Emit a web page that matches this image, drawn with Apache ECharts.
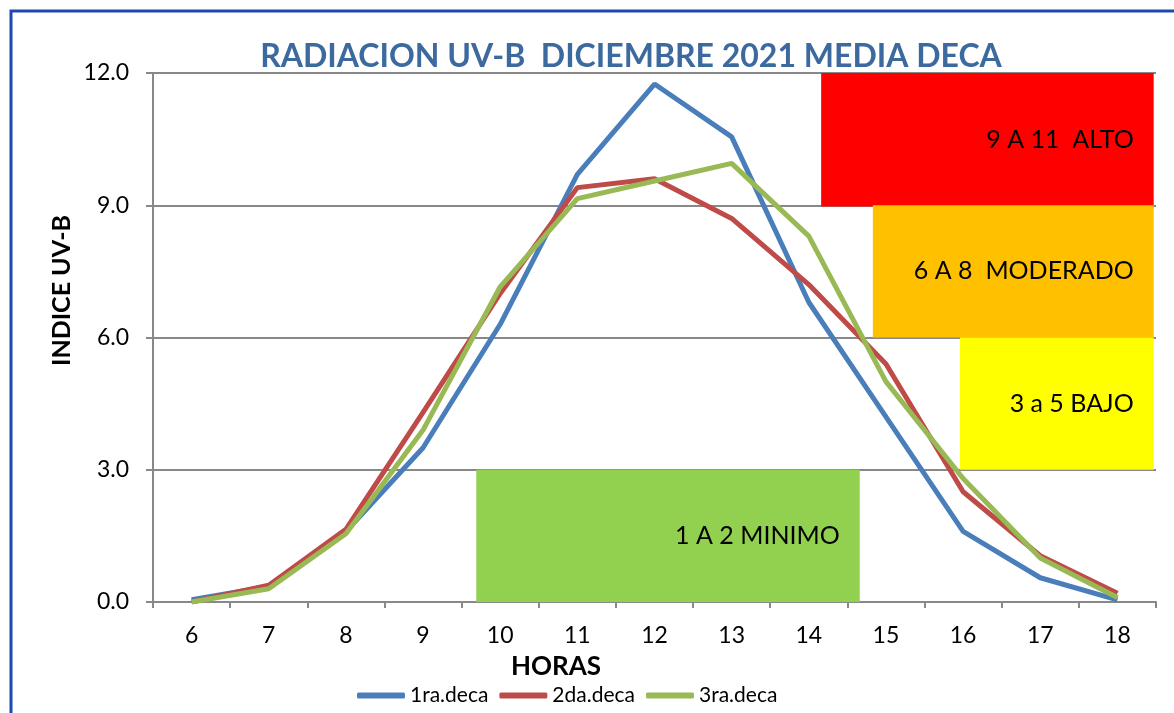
<!DOCTYPE html>
<html>
<head>
<meta charset="utf-8">
<script src="https://cdn.jsdelivr.net/npm/echarts@6/dist/echarts.min.js"></script>
<style>
html,body{margin:0;padding:0;background:#fff;}
#chart{width:1174px;height:713px;}
</style>
</head>
<body>
<div id="chart"></div>
<script>
const hours = ['6','7','8','9','10','11','12','13','14','15','16','17','18'];
const deca1 = [0.05, 0.35, 1.6, 3.5, 6.3, 9.7, 11.75, 10.55, 6.8, 4.2, 1.6, 0.55, 0.05];
const deca2 = [0.0, 0.38, 1.65, 4.3, 7.0, 9.4, 9.6, 8.7, 7.2, 5.4, 2.5, 1.05, 0.2];
const deca3 = [0.0, 0.3, 1.55, 3.9, 7.15, 9.15, 9.55, 9.95, 8.3, 5.0, 2.8, 1.0, 0.1];
const seriesNames = ['1ra.deca', '2da.deca', '3ra.deca'];
const zoneLabels = ['9 A 11  ALTO', '6 A 8  MODERADO', '3 a 5 BAJO', '1 A 2 MINIMO'];

const FONT = 'Lato';
const chart = echarts.init(document.getElementById('chart'));

// annotation boxes (drawn shapes in the original), placed on a hidden hour axis
const zoneBoxes = [
  {x0: 14.16, x1: 18.47, y0: 12, y1: 8.97, color: '#FF0000'},
  {x0: 14.83, x1: 18.47, y0: 9, y1: 6.0, color: '#FFC000'},
  {x0: 15.96, x1: 18.47, y0: 6, y1: 3.0, color: '#FFFF00'},
  {x0: 9.69, x1: 14.66, y0: 3, y1: 0, color: '#92D050'}
];
const markData = zoneBoxes.map((b, i) => [
  {xAxis: b.x0, yAxis: b.y0, itemStyle: {color: b.color, opacity: 1},
   label: {show: true, position: 'insideRight', distance: 20, formatter: zoneLabels[i],
           color: '#000', fontFamily: FONT, fontSize: 25}},
  {xAxis: b.x1, yAxis: b.y1}
]);

const lineColors = ['#4A7EBB', '#BE4B48', '#98B954'];
const lineData = [deca1, deca2, deca3];

chart.setOption({
  animation: false,
  backgroundColor: '#fff',
  textStyle: {fontFamily: FONT},
  title: {
    text: 'RADIACION UV-B  DICIEMBRE 2021 MEDIA DECA',
    left: 626, textAlign: 'center', top: 36,
    textStyle: {color: '#3C6A9E', fontSize: 32, fontWeight: 'bold', fontFamily: FONT}
  },
  graphic: [{
    type: 'polyline', silent: true,
    shape: {points: [[11, 800], [11, 11], [1200, 11]]},
    style: {stroke: '#1E48B0', lineWidth: 3, fill: null}
  }, {
    type: 'text', silent: true, x: 62, y: 366, rotation: Math.PI / 2,
    style: {text: 'INDICE UV-B', fill: '#000', font: 'bold 25px Lato', align: 'left', verticalAlign: 'middle'}
  }, {
    type: 'text', silent: true, x: 556, y: 667,
    style: {text: 'HORAS', fill: '#000', font: 'bold 26px Lato', align: 'center', verticalAlign: 'middle'}
  }],
  legend: {
    data: seriesNames, top: 680, left: 352,
    icon: 'roundRect', itemWidth: 48, itemHeight: 6, itemGap: 11, itemTextGap: 5,
    textStyle: {fontFamily: FONT, fontSize: 21, color: '#000'}
  },
  grid: {left: 153, right: 18, top: 73, bottom: 111, containLabel: false},
  xAxis: [{
    type: 'category', data: hours, boundaryGap: true,
    axisLine: {lineStyle: {color: '#888', width: 2}},
    axisTick: {show: true, alignWithLabel: false, length: 6, lineStyle: {color: '#888', width: 2}},
    axisLabel: {fontFamily: FONT, fontSize: 23, color: '#000', margin: 22},
    splitLine: {show: false}
  }, {
    type: 'value', min: 5.5, max: 18.5, show: false
  }],
  yAxis: {
    type: 'value', min: 0, max: 12, interval: 3,
    axisLine: {show: true, lineStyle: {color: '#888', width: 2}},
    axisTick: {show: true, length: 7, lineStyle: {color: '#888', width: 2}},
    axisLabel: {fontFamily: FONT, fontSize: 23, color: '#000', margin: 24, formatter: v => v.toFixed(1)},
    splitLine: {show: true, lineStyle: {color: '#888', width: 2}}
  },
  series: [{
    type: 'line', xAxisIndex: 1, data: [], silent: true,
    markArea: {silent: true, z: 1, data: markData}
  }].concat(lineData.map((d, i) => ({
    name: seriesNames[i], type: 'line', data: d, xAxisIndex: 0,
    symbol: 'none', z: 5,
    lineStyle: {color: lineColors[i], width: 5},
    itemStyle: {color: lineColors[i]}
  })))
});
</script>
</body>
</html>
